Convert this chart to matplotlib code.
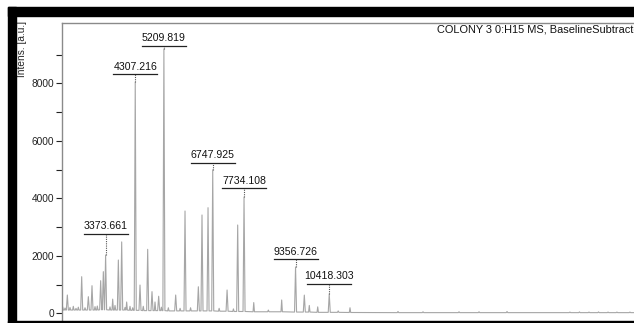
import matplotlib
matplotlib.use("Agg")
import matplotlib.pyplot as plt
from matplotlib.patches import Rectangle

plt.rcParams['font.family'] = ['Liberation Sans', 'DejaVu Sans']

# peak list (m/z, intensity top, local baseline)
peak_mz = [2022, 2095, 2168, 2252, 2356, 2441, 2514, 2620, 2725, 2830,
           2945, 3040, 3112, 3218, 3302, 3373.661, 3512, 3597, 3670, 3775,
           3880, 3985, 4037, 4142, 4227, 4307.216, 4457, 4560, 4699, 4835,
           4930, 5045, 5130, 5209.819, 5350, 5581, 5720, 5875, 6050, 6295,
           6410, 6600, 6747.925, 6950, 7200, 7400, 7534, 7734.108, 8040, 8500,
           8920, 9356.726, 9633, 9790, 10055, 10418.303, 10700, 11072, 12584, 13372,
           14506, 15136, 16018, 18000, 18300, 18600, 18900, 19200, 19480, 19890]
peak_int = [230, 190, 643, 210, 250, 180, 220, 1280, 200, 585,
            967, 240, 260, 1141, 1455, 2035, 230, 500, 280, 1860,
            2490, 210, 400, 250, 200, 8050, 990, 250, 2232, 760,
            400, 600, 220, 9200, 200, 643, 180, 3565, 200, 930,
            3426, 3680, 5000, 180, 817, 160, 3078, 4050, 380, 120,
            470, 1617, 640, 280, 230, 680, 90, 200, 70, 60,
            60, 60, 70, 50, 55, 50, 55, 50, 50, 50]
peak_base = [120, 120, 120, 120, 120, 120, 120, 120, 120, 120,
             120, 120, 120, 130, 130, 130, 120, 120, 120, 120,
             120, 120, 120, 110, 110, 110, 110, 100, 100, 100,
             100, 100, 100, 100, 90, 90, 90, 90, 90, 90,
             90, 90, 90, 80, 80, 70, 70, 70, 60, 60,
             60, 50, 50, 50, 40, 40, 40, 35, 30, 30,
             30, 30, 30, 30, 30, 30, 30, 30, 30, 30]

# labelled peaks
label_mz = [3373.661, 4307.216, 5209.819, 6747.925, 7734.108, 9356.726, 10418.303]
label_int = [2035, 8050, 9200, 5000, 4050, 1617, 680]
label_lift = [21, 8, 3, 7, 9, 8, 10]   # px between peak top and underline

title = "COLONY 3 0:H15 MS, BaselineSubtracted"

W, H = 634, 323
fig = plt.figure(figsize=(W / 100, H / 100), dpi=100)

# axes in pixels: left 62, right 700 (runs off the page), top 23, bottom 330
ax = fig.add_axes([62 / W, 1 - 330 / H, 638 / W, 307 / H])
xmin, xmax = 2000, 22097
ymin, ymax = -574, 10104
ax.set_xlim(xmin, xmax)
ax.set_ylim(ymin, ymax)
dx = (xmax - xmin) / 638.0
dy = (ymax - ymin) / 307.0

# build spectrum trace
xs, ys = [xmin], [peak_base[0]]
for m, h, b in zip(peak_mz, peak_int, peak_base):
    w = 32 if h > 500 else 22
    xs += [m - w, m, m + w]
    ys += [b, h, b]
xs.append(xmax)
ys.append(peak_base[-1])
ax.plot(xs, ys, color='#a6a6a6', lw=0.8)

# peak labels
for m, h, lift in zip(label_mz, label_int, label_lift):
    uy = h + lift * dy
    ax.plot([m, m], [h, uy], color='#555555', lw=0.8, ls=(0, (1, 1)))
    ax.plot([m - 22 * dx, m + 22 * dx], [uy, uy], color='#222222', lw=0.9)
    ax.text(m, uy + 2.5 * dy, "%.3f" % m, ha='center', va='bottom',
            fontsize=7.6, color='#111111')

ax.set_yticks([0, 2000, 4000, 6000, 8000])
ax.set_yticks([1000, 3000, 5000, 7000, 9000], minor=True)
ax.tick_params(axis='y', which='both', direction='out', length=4, width=0.8,
               labelsize=7.3, pad=1.5, colors='#222222')
ax.set_xticks([])
for s in ['right', 'bottom']:
    ax.spines[s].set_visible(False)
ax.spines['top'].set_color('#8a8a8a')
ax.spines['left'].set_color('#8a8a8a')
ax.spines['top'].set_linewidth(1.0)
ax.spines['left'].set_linewidth(1.0)

fig.text(22 / W, 1 - 21 / H, "Intens. [a.u.]", rotation=90, ha='center',
         va='top', fontsize=7.3, color='#222222')
# the original scan cuts this title off at the right edge
fig.text(437 / W, 1 - 30 / H, title, ha='left', va='center', fontsize=7.9,
         color='#111111')

# black scan border
fig.patches.append(Rectangle((8 / W, 1 - 16 / H), 1, 9 / H, transform=fig.transFigure,
                             color='black', zorder=10))
fig.patches.append(Rectangle((8 / W, 0), 8 / W, 1 - 7 / H, transform=fig.transFigure,
                             color='black', zorder=10))
fig.patches.append(Rectangle((8 / W, 0), 1, 2.5 / H, transform=fig.transFigure,
                             color='black', zorder=10))

fig.savefig("out.png", dpi=100)
